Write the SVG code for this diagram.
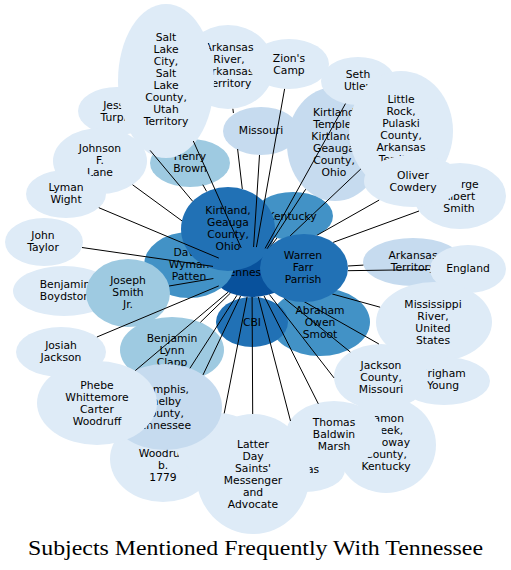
<svg xmlns="http://www.w3.org/2000/svg" width="511" height="570" viewBox="0 0 511 570">
<style>
.c0{fill:#deebf7}.c1{fill:#c6dbef}.c2{fill:#9ecae1}.c3{fill:#4292c6}.c4{fill:#2171b5}.c5{fill:#08519c}
text{font-family:"DejaVu Sans",sans-serif;font-size:10.75px;fill:#000;text-anchor:middle}
.e line{stroke:#000;stroke-width:1;fill:none}
.title{font-family:"Liberation Serif",serif;font-size:21px}
</style>
<rect width="511" height="570" fill="#fff"/>
<g id="nodes">
<g id="n-tennessee"><ellipse class="c5" cx="252" cy="272" rx="40" ry="25"/><text x="252" y="276">Tennessee</text></g>
<g id="n-arkansas-river"><ellipse class="c0" cx="228" cy="67" rx="46" ry="42"/><text><tspan x="229" y="51">Arkansas</tspan><tspan x="229" y="63">River,</tspan><tspan x="229" y="75">Arkansas</tspan><tspan x="229" y="87">Territory</tspan></text></g>
<g id="n-zions-camp"><ellipse class="c0" cx="289" cy="64" rx="40" ry="25"/><text><tspan x="289" y="62">Zion's</tspan><tspan x="289" y="74">Camp</tspan></text></g>
<g id="n-missouri"><ellipse class="c1" cx="261" cy="131" rx="38" ry="24"/><text x="261" y="134">Missouri</text></g>
<g id="n-jesse-turpin"><ellipse class="c0" cx="117" cy="111" rx="39" ry="24"/><text><tspan x="117" y="109">Jesse</tspan><tspan x="117" y="121">Turpin</tspan></text></g>
<g id="n-johnson-lane"><ellipse class="c0" cx="100" cy="161" rx="47" ry="33"/><text><tspan x="100" y="152">Johnson</tspan><tspan x="100" y="164">F.</tspan><tspan x="100" y="176">Lane</tspan></text></g>
<g id="n-lyman-wight"><ellipse class="c0" cx="66" cy="194" rx="40" ry="24"/><text><tspan x="66" y="191">Lyman</tspan><tspan x="66" y="203">Wight</tspan></text></g>
<g id="n-john-taylor"><ellipse class="c0" cx="44" cy="242" rx="39" ry="24"/><text><tspan x="43" y="239">John</tspan><tspan x="43" y="251">Taylor</tspan></text></g>
<g id="n-benjamin-boydston"><ellipse class="c0" cx="64" cy="291" rx="51" ry="25"/><text><tspan x="65" y="288">Benjamin</tspan><tspan x="65" y="300">Boydston</tspan></text></g>
<g id="n-henry-brown"><ellipse class="c2" cx="190" cy="163" rx="40" ry="24"/><text><tspan x="190" y="160">Henry</tspan><tspan x="190" y="172">Brown</tspan></text></g>
<g id="n-salt-lake"><ellipse class="c0" cx="166" cy="81" rx="48" ry="77"/><text><tspan x="166" y="41">Salt</tspan><tspan x="166" y="53">Lake</tspan><tspan x="166" y="65">City,</tspan><tspan x="166" y="77">Salt</tspan><tspan x="166" y="89">Lake</tspan><tspan x="166" y="101">County,</tspan><tspan x="166" y="113">Utah</tspan><tspan x="166" y="125">Territory</tspan></text></g>
<g id="n-david-patten"><ellipse class="c3" cx="189" cy="265" rx="45" ry="33"/><text><tspan x="189" y="256">David</tspan><tspan x="189" y="268">Wyman</tspan><tspan x="189" y="280">Patten</tspan></text></g>
<g id="n-joseph-smith"><ellipse class="c2" cx="128" cy="293" rx="42" ry="34"/><text><tspan x="128" y="284">Joseph</tspan><tspan x="128" y="296">Smith</tspan><tspan x="128" y="308">Jr.</tspan></text></g>
<g id="n-kirtland-temple"><ellipse class="c1" cx="335" cy="144" rx="48" ry="57"/><text><tspan x="334" y="116">Kirtland</tspan><tspan x="334" y="128">Temple,</tspan><tspan x="334" y="140">Kirtland,</tspan><tspan x="334" y="152">Geauga</tspan><tspan x="334" y="164">County,</tspan><tspan x="334" y="176">Ohio</tspan></text></g>
<g id="n-kentucky"><ellipse class="c3" cx="293" cy="216" rx="40" ry="24"/><text x="292" y="220">Kentucky</text></g>
<g id="n-kirtland"><ellipse class="c4" cx="228" cy="229" rx="47" ry="42"/><text><tspan x="228" y="214">Kirtland,</tspan><tspan x="228" y="226">Geauga</tspan><tspan x="228" y="238">County,</tspan><tspan x="228" y="250">Ohio</tspan></text></g>
<g id="n-seth-utley"><ellipse class="c0" cx="358" cy="81" rx="37" ry="24"/><text><tspan x="358" y="78">Seth</tspan><tspan x="358" y="90">Utley</tspan></text></g>
<g id="n-little-rock"><ellipse class="c0" cx="401" cy="131" rx="52" ry="60"/><text><tspan x="401" y="103">Little</tspan><tspan x="401" y="115">Rock,</tspan><tspan x="401" y="127">Pulaski</tspan><tspan x="401" y="139">County,</tspan><tspan x="401" y="151">Arkansas</tspan><tspan x="401" y="163">Territory</tspan></text></g>
<g id="n-george-smith"><ellipse class="c0" cx="460" cy="196" rx="46" ry="33"/><text><tspan x="459" y="188">George</tspan><tspan x="459" y="200">Albert</tspan><tspan x="459" y="212">Smith</tspan></text></g>
<g id="n-oliver-cowdery"><ellipse class="c0" cx="413" cy="181" rx="49" ry="26"/><text><tspan x="413" y="179">Oliver</tspan><tspan x="413" y="191">Cowdery</tspan></text></g>
<g id="n-arkansas-territory"><ellipse class="c1" cx="413" cy="262" rx="50" ry="24"/><text><tspan x="413" y="259">Arkansas</tspan><tspan x="413" y="271">Territory</tspan></text></g>
<g id="n-england"><ellipse class="c0" cx="468" cy="269" rx="38" ry="24"/><text x="468" y="272">England</text></g>
<g id="n-mississippi"><ellipse class="c0" cx="434" cy="322" rx="58" ry="40"/><text><tspan x="433" y="308">Mississippi</tspan><tspan x="433" y="320">River,</tspan><tspan x="433" y="332">United</tspan><tspan x="433" y="344">States</tspan></text></g>
<g id="n-brigham-young"><ellipse class="c0" cx="444" cy="381" rx="46" ry="24"/><text><tspan x="443" y="377">Brigham</tspan><tspan x="443" y="389">Young</tspan></text></g>
<g id="n-jackson-county"><ellipse class="c0" cx="381" cy="377" rx="47" ry="33"/><text><tspan x="381" y="369">Jackson</tspan><tspan x="381" y="381">County,</tspan><tspan x="381" y="393">Missouri</tspan></text></g>
<g id="n-abraham-smoot"><ellipse class="c3" cx="320" cy="322" rx="50" ry="34"/><text><tspan x="320" y="314">Abraham</tspan><tspan x="320" y="326">Owen</tspan><tspan x="320" y="338">Smoot</tspan></text></g>
<g id="n-cbi"><ellipse class="c4" cx="252" cy="322" rx="36" ry="25"/><text x="252" y="326">CBI</text></g>
<g id="n-creek-kentucky"><ellipse class="c0" cx="386" cy="445" rx="50" ry="48"/><text><tspan x="404" y="422" text-anchor="end">amon</tspan><tspan x="386" y="434">Creek,</tspan><tspan x="410" y="446" text-anchor="end">oway</tspan><tspan x="386" y="458">County,</tspan><tspan x="386" y="470">Kentucky</tspan></text></g>
<g id="n-thomas-marsh"><ellipse class="c0" cx="334" cy="434" rx="48" ry="33"/><text><tspan x="334" y="426">Thomas</tspan><tspan x="334" y="438">Baldwin</tspan><tspan x="334" y="450">Marsh</tspan></text></g>
<g id="n-as"><ellipse class="c0" cx="305" cy="470" rx="40" ry="22"/><text x="313" y="473" text-anchor="start">as</text></g>
<g id="n-josiah-jackson"><ellipse class="c0" cx="61" cy="352" rx="45" ry="25"/><text><tspan x="61" y="349">Josiah</tspan><tspan x="61" y="361">Jackson</tspan></text></g>
<g id="n-benjamin-clapp"><ellipse class="c2" cx="172" cy="350" rx="52" ry="33"/><text><tspan x="172" y="342">Benjamin</tspan><tspan x="172" y="354">Lynn</tspan><tspan x="172" y="366">Clapp</tspan></text></g>
<g id="n-woodruff-1779"><ellipse class="c0" cx="163" cy="459" rx="53" ry="43"/><text><tspan x="163" y="457">Woodruff</tspan><tspan x="163" y="469">b.</tspan><tspan x="163" y="481">1779</tspan></text></g>
<g id="n-hidden"><ellipse class="c0" cx="218" cy="445" rx="42" ry="32"/></g>
<g id="n-memphis"><ellipse class="c1" cx="165" cy="407" rx="57" ry="43"/><text><tspan x="163" y="393">Memphis,</tspan><tspan x="163" y="405">Shelby</tspan><tspan x="163" y="417">County,</tspan><tspan x="163" y="429">Tennessee</tspan></text></g>
<g id="n-phebe-woodruff"><ellipse class="c0" cx="97" cy="403" rx="60" ry="42"/><text><tspan x="97" y="389">Phebe</tspan><tspan x="97" y="401">Whittemore</tspan><tspan x="97" y="413">Carter</tspan><tspan x="97" y="425">Woodruff</tspan></text></g>
<g id="n-lds-messenger"><ellipse class="c0" cx="253" cy="474" rx="57" ry="60"/><text><tspan x="253" y="448">Latter</tspan><tspan x="253" y="460">Day</tspan><tspan x="253" y="472">Saints'</tspan><tspan x="253" y="484">Messenger</tspan><tspan x="253" y="496">and</tspan><tspan x="253" y="508">Advocate</tspan></text></g>
</g>
<g id="connectors" class="e">
<line x1="241.2" y1="247.9" x2="193.3" y2="141"/>
<line x1="232.9" y1="108.8" x2="233.4" y2="113"/>
<line x1="237.6" y1="149" x2="242.3" y2="189"/>
<line x1="256.4" y1="247.1" x2="284.6" y2="88.9"/>
<line x1="253.6" y1="247" x2="259.5" y2="155"/>
<line x1="150.1" y1="150.4" x2="192.7" y2="201.3"/>
<line x1="132.6" y1="184.8" x2="182" y2="220.9"/>
<line x1="202.8" y1="184.7" x2="206.6" y2="191.4"/>
<line x1="218.8" y1="258.1" x2="98.8" y2="207.7"/>
<line x1="213" y1="266.4" x2="82" y2="247.5"/>
<line x1="213.4" y1="278.5" x2="169.1" y2="286"/>
<line x1="268.6" y1="249.3" x2="276.9" y2="238"/>
<line x1="347.9" y1="266" x2="363.4" y2="265.1"/>
<line x1="347.9" y1="270.7" x2="430" y2="269.5"/>
<line x1="332.3" y1="294" x2="380.1" y2="307.2"/>
<line x1="300.4" y1="299.5" x2="378.9" y2="344"/>
<line x1="284.4" y1="298.4" x2="350.3" y2="352"/>
<line x1="269.4" y1="294.5" x2="334" y2="377.9"/>
<line x1="264" y1="295.8" x2="318.3" y2="403.8"/>
<line x1="258.3" y1="296.7" x2="290.5" y2="421"/>
<line x1="252.1" y1="297" x2="252.7" y2="414"/>
<line x1="247.1" y1="296.8" x2="224.2" y2="413.4"/>
<line x1="240.6" y1="295.9" x2="203" y2="374.9"/>
<line x1="237" y1="295.2" x2="189.9" y2="368.3"/>
<line x1="228.2" y1="292.1" x2="135.3" y2="370.6"/>
<line x1="230.4" y1="293.1" x2="200.4" y2="322.3"/>
<line x1="218.8" y1="285.9" x2="96.9" y2="337"/>
<line x1="316.7" y1="235.4" x2="379.1" y2="200.1"/>
<line x1="333.1" y1="242.4" x2="419" y2="211"/>
<line x1="289.5" y1="236.5" x2="360.8" y2="169"/>
<line x1="265.1" y1="248.4" x2="345.5" y2="103.6"/>
<line x1="267" y1="248.8" x2="305.7" y2="189.2"/>
</g>
<g id="n-warren-parrish"><ellipse class="c4" cx="304" cy="268" rx="44" ry="34"/><text><tspan x="303" y="259">Warren</tspan><tspan x="303" y="271">Farr</tspan><tspan x="303" y="283">Parrish</tspan></text></g>
<text class="title" x="255.5" y="555" textLength="455" lengthAdjust="spacingAndGlyphs">Subjects Mentioned Frequently With Tennessee</text>
</svg>
